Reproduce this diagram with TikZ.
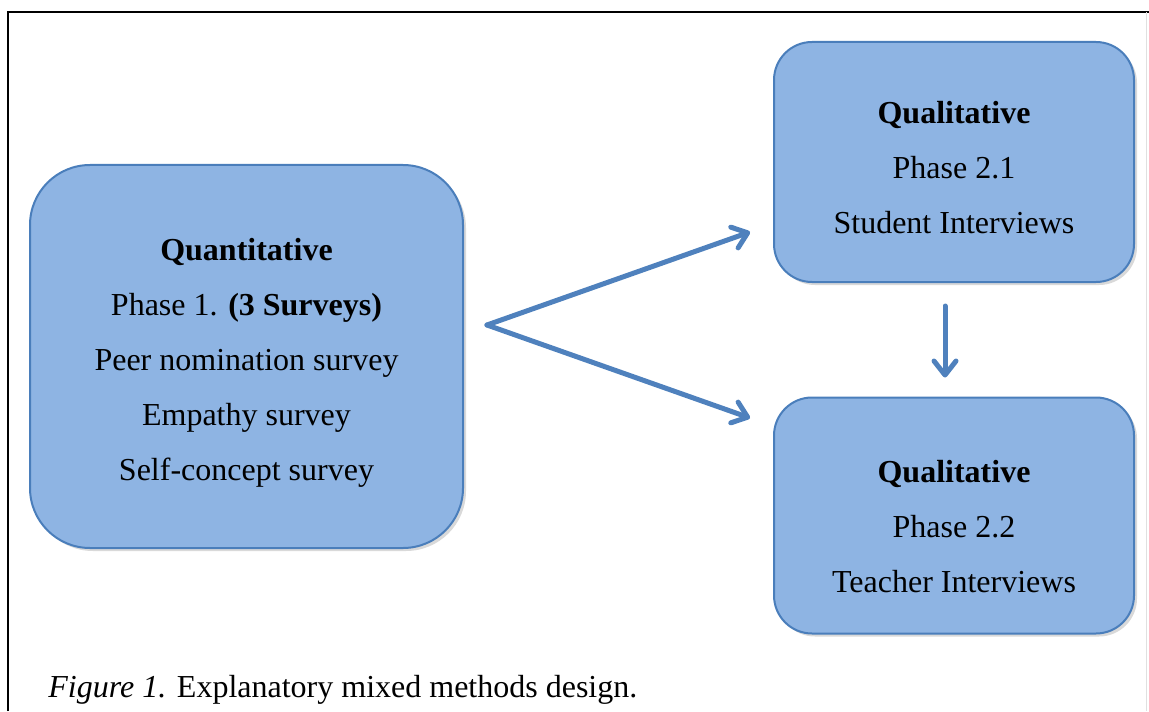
\documentclass[tikz,border=0pt]{standalone}
\usepackage{fontspec}
\setmainfont{Liberation Serif}
\usetikzlibrary{arrows.meta, positioning, shadows}
\definecolor{boxfill}{HTML}{8EB4E3}
\definecolor{boxline}{HTML}{4A7EBB}
\definecolor{arrowblue}{HTML}{4F81BD}
% baja la primera linea del texto
\newcommand{\lift}[1]{\rule{0pt}{#1}}

\begin{document}
\begin{tikzpicture}[
        x=0.5pt, y=-0.5pt,
        % Estilos para las fases
        phasebox/.style={
                rectangle,
                fill=boxfill,
                draw=boxline,
                line width=1pt,
                align=center,
                font=\fontsize{16}{27.5}\selectfont,
                drop shadow={shadow xshift=1.5pt, shadow yshift=-1.5pt, opacity=0.3}
            },
        % Flechas
        arrow/.style={
                -{Straight Barb[length=7pt,width=11pt,round]},
                line width=2.5pt,
                line cap=round,
                color=arrowblue
            }
    ]
    \useasboundingbox (0,0) rectangle (1149,711);

    % MARCO
    \draw[line width=1pt] (8,711) -- (8,12) -- (1149,12);
    \draw[black!12, line width=0.5pt] (1146,12) -- (1146,711);

    % CUANTITATIVA (izquierda)
    \node[phasebox, rounded corners=30pt, minimum width=216.5pt, minimum height=191.5pt] (quant) at (246.5,356.5)
        {\lift{17pt}\textbf{Quantitative}\\Phase 1. \textbf{(3 Surveys)}\\Peer nomination survey\\Empathy survey\\Self-concept survey};

    % CUALITATIVA 2.1 (arriba-derecha)
    \node[phasebox, rounded corners=19pt, minimum width=180pt, minimum height=120pt] (qual1) at (954,162)
        {\lift{17pt}\textbf{Qualitative}\\Phase 2.1\\Student Interviews};

    % CUALITATIVA 2.2 (abajo-derecha)
    \node[phasebox, rounded corners=19pt, minimum width=180pt, minimum height=118pt] (qual2) at (954,515.5)
        {\lift{22pt}\textbf{Qualitative}\\Phase 2.2\\Teacher Interviews};

    % PIE DE FIGURA
    \node[anchor=base west, inner sep=0pt, font=\fontsize{16}{20}\selectfont] (caption) at (48,697)
        {\textit{Figure 1.} Explanatory mixed methods design.};

    % FLECHAS
    \coordinate (fork) at (487,325);
    \coordinate (tipA) at (750,232);
    \coordinate (tipB) at (750,418);
    \draw[arrow] (fork) -- (tipA);
    \draw[arrow] (fork) -- (tipB);
    \draw[arrow, shorten <=11.5pt, shorten >=9.5pt] ([xshift=-4.5pt]qual1.south) -- ([xshift=-4.5pt]qual2.north);

\end{tikzpicture}
\end{document}
